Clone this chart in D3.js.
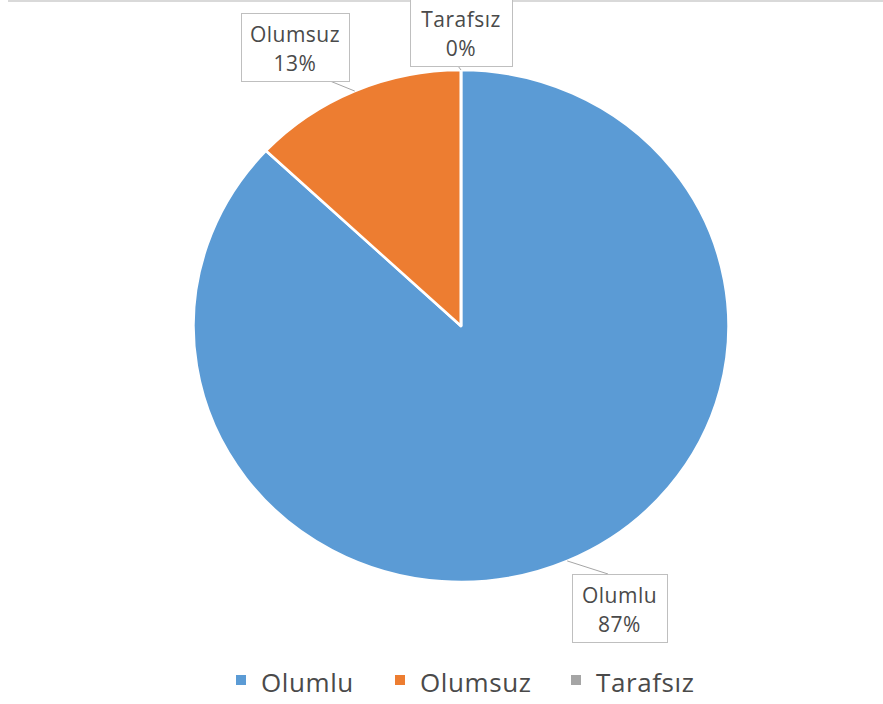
<!doctype html>
<html>
  <head>
    <script src="https://d3js.org/d3.v7.min.js"></script>
    <style>
      body { margin: 0; background: #fff; }
      text { font-family: "Open Sans", sans-serif; fill: #4a4a4a; }
    </style>
  </head>
  <body>
    <div id="chart"></div>
    <script>
      // values
      var categories = ["Olumlu", "Olumsuz", "Tarafsız"];
      var values = [87, 13, 0];
      var percentLabels = ["87%", "13%", "0%"];
      var colors = ["#5b9bd5", "#ed7d31", "#a5a5a5"];

      var width = 883, height = 704;
      var cx = 461, cy = 326, r = 256, sx = 1.045;

      var svg = d3.select("#chart").append("svg")
        .attr("width", width)
        .attr("height", height);

      // thin grey rule along the top
      svg.append("rect").attr("x", 8).attr("y", 0).attr("width", 875).attr("height", 2)
        .attr("fill", "#d9d9d9");

      var pie = d3.pie().sort(null).value(function(d) { return d; });
      var arcs = pie(values);
      var arc = d3.arc().innerRadius(0).outerRadius(r);

      var g = svg.append("g")
        .attr("transform", "translate(" + cx + "," + cy + ") scale(" + sx + ",1)");

      g.selectAll("path")
        .data(arcs)
        .enter()
        .append("path")
        .attr("d", arc)
        .attr("fill", function(d, i) { return colors[i]; })
        .attr("stroke", "#fff")
        .attr("stroke-width", 2.5)
        .attr("stroke-linejoin", "round");

      // label boxes (x, y, w, h) and where the leader leaves the box
      var boxes = [
        { x: 572, y: 574, w: 95, h: 68, lx: 608, ly: 574 },
        { x: 241, y: 13, w: 108, h: 68, lx: 330, ly: 81 },
        { x: 410, y: -2, w: 102, h: 68, lx: 458, ly: 66 }
      ];

      var labels = svg.append("g");
      arcs.forEach(function(d, i) {
        var b = boxes[i];
        var a = (d.startAngle + d.endAngle) / 2;
        var px = cx + Math.sin(a) * r * sx;
        var py = cy - Math.cos(a) * r;
        labels.append("line")
          .attr("x1", b.lx).attr("y1", b.ly)
          .attr("x2", px).attr("y2", py)
          .attr("stroke", "#a6a6a6").attr("stroke-width", 1);
        labels.append("rect")
          .attr("x", b.x + 0.5).attr("y", b.y + 0.5)
          .attr("width", b.w).attr("height", b.h)
          .attr("fill", "#fff").attr("stroke", "#bfbfbf");
        labels.append("text")
          .attr("x", b.x + b.w / 2).attr("y", b.y + 29)
          .attr("text-anchor", "middle")
          .attr("font-size", 21).attr("letter-spacing", 0.5)
          .text(categories[i]);
        labels.append("text")
          .attr("x", b.x + b.w / 2).attr("y", b.y + 58)
          .attr("text-anchor", "middle")
          .attr("font-size", 21).attr("letter-spacing", 0.5)
          .text(percentLabels[i]);
      });

      // legend
      var legendX = [236, 395, 571];
      var legend = svg.append("g").selectAll("g")
        .data(categories)
        .enter()
        .append("g")
        .attr("transform", function(d, i) { return "translate(" + legendX[i] + ",0)"; });
      legend.append("rect")
        .attr("x", 0).attr("y", 675).attr("width", 10).attr("height", 10)
        .attr("fill", function(d, i) { return colors[i]; });
      legend.append("text")
        .attr("x", 25).attr("y", 692)
        .attr("font-size", 26).attr("letter-spacing", 0.6)
        .text(function(d) { return d; });
    </script>
  </body>
</html>
